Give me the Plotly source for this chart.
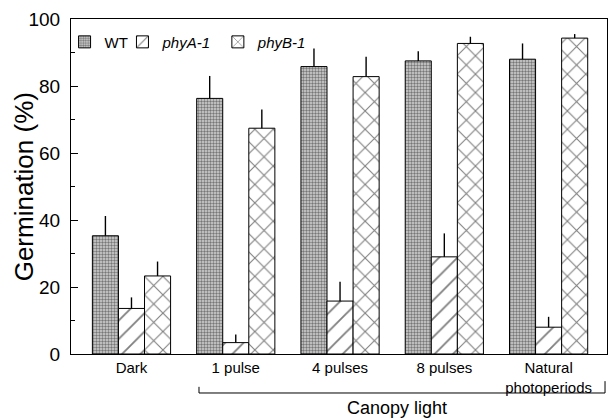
import plotly.graph_objects as go

categories = ["Dark", "1 pulse", "4 pulses", "8 pulses", "Natural<br>photoperiods"]

wt = [35.3, 76.3, 85.8, 87.5, 88.0]
wt_err = [5.9, 6.7, 5.4, 2.9, 4.7]
phya = [13.6, 3.4, 15.8, 29.0, 8.0]
phya_err = [3.3, 2.4, 5.8, 7.0, 3.1]
phyb = [23.3, 67.4, 82.8, 92.7, 94.3]
phyb_err = [4.3, 5.6, 5.9, 2.0, 1.2]

FONT = "Liberation Sans, Arial, sans-serif"

series = [
    ("WT", wt, wt_err, "legend",
     dict(shape=".", size=3, solidity=0.5, fgcolor="#1a1a1a", bgcolor="#d4d4d4")),
    ("<i>phyA-1</i>", phya, phya_err, "legend2",
     dict(shape="/", size=13, solidity=0.14, fgcolor="black", bgcolor="white")),
    ("<i>phyB-1</i>", phyb, phyb_err, "legend3",
     dict(shape="x", size=13, solidity=0.16, fgcolor="black", bgcolor="white")),
]

fig = go.Figure()
for name, vals, err, leg, pat in series:
    fig.add_trace(go.Bar(
        x=list(range(len(categories))), y=vals, name=name, legend=leg,
        marker=dict(color="white", pattern=pat, line=dict(color="black", width=1)),
        error_y=dict(type="data", symmetric=False, array=err,
                     arrayminus=[0] * len(err), width=0, thickness=1.4, color="black"),
    ))

# "Canopy light" bracket under the last four groups
fig.add_shape(type="path", xref="paper", yref="paper",
              path="M 0.2388,-0.098 L 0.2388,-0.1164 L 0.9963,-0.1164 L 0.9963,-0.081",
              line=dict(color="black", width=1))
fig.add_annotation(text="Canopy light", xref="paper", yref="paper",
                   x=0.608, y=-0.161, showarrow=False, yanchor="middle",
                   font=dict(size=18, color="black", family=FONT))
# y title as an annotation so it sits where the original has it
fig.add_annotation(text="Germination (%)", xref="paper", yref="paper",
                   x=-0.088, y=0.5, textangle=-90, showarrow=False,
                   xanchor="center", yanchor="middle",
                   font=dict(size=26, color="black", family=FONT))

leg_style = dict(orientation="h", xanchor="left", yanchor="middle", y=0.931,
                 font=dict(size=15, color="black", family=FONT),
                 bgcolor="rgba(0,0,0,0)", itemwidth=30)

fig.update_layout(
    width=608, height=419,
    margin=dict(l=71, r=1, t=19, b=65),
    paper_bgcolor="white", plot_bgcolor="white",
    font=dict(family=FONT, color="black"),
    barmode="group", bargap=0.25, bargroupgap=0,
    showlegend=True,
    legend=dict(x=-0.012, **leg_style),
    legend2=dict(x=0.096, **leg_style),
    legend3=dict(x=0.274, **leg_style),
    xaxis=dict(range=[-0.58, 4.56], tickvals=list(range(len(categories))),
               ticktext=categories, showline=True, linecolor="black", linewidth=1,
               mirror=True, ticks="", showgrid=False, zeroline=False, automargin=False,
               tickfont=dict(size=15, color="black")),
    yaxis=dict(range=[0, 100], dtick=20, showline=True, linecolor="black", linewidth=1,
               mirror=True, ticks="inside", ticklen=7, tickcolor="black",
               minor=dict(ticks="inside", ticklen=4, dtick=10, tickcolor="black"),
               showgrid=False, zeroline=False, automargin=False, ticklabelstandoff=6,
               tickfont=dict(size=19, color="black")),
)

# the page body has a default 8px margin; drop it so the figure fills the window
fig.write_html("out.html", config={"displayModeBar": False},
               post_script="document.body.style.margin='0';")
